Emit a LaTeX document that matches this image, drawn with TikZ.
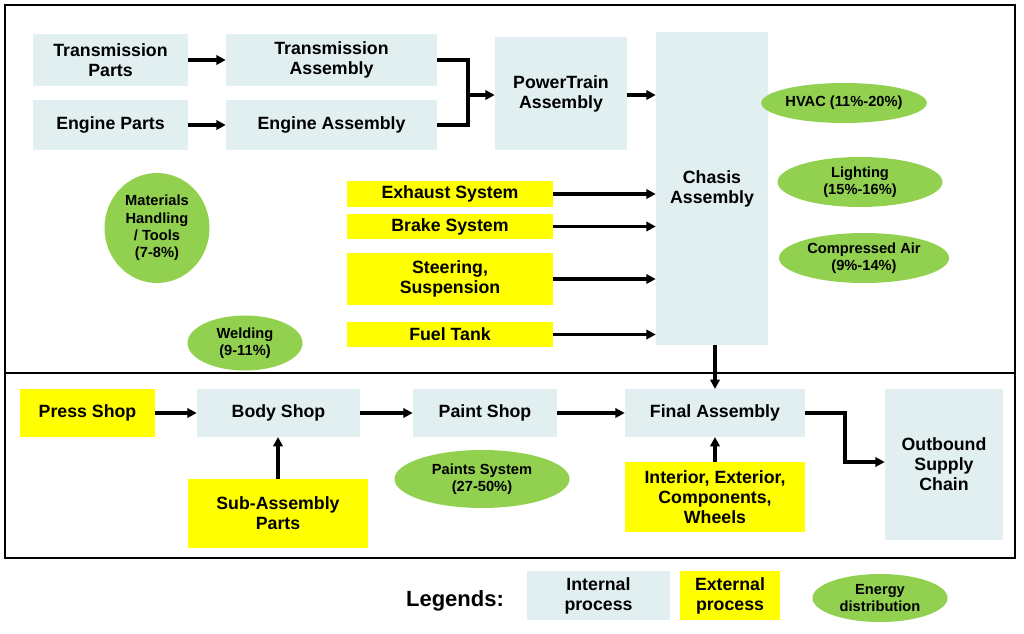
\documentclass[tikz,border=0pt]{standalone}
\usepackage{fontspec}
\setmainfont{Liberation Sans}
\usetikzlibrary{arrows.meta,shapes.geometric}
\definecolor{ib}{HTML}{E1EFF0}
\definecolor{ey}{HTML}{FFFF00}
\definecolor{eg}{HTML}{92D050}
\begin{document}
\begin{tikzpicture}[x=0.75pt,y=-0.75pt,
 box/.style={fill=ib,draw=none,align=center,font=\bfseries\fontsize{13.3}{15}\selectfont,inner sep=0pt},
 ybox/.style={fill=ey,draw=none,align=center,font=\bfseries\fontsize{13.3}{15}\selectfont,inner sep=0pt},
 ell/.style={ellipse,fill=eg,draw=none,align=center,font=\bfseries\fontsize{11}{13}\selectfont,inner sep=0pt},
 ar/.style={line width=2.4pt,-{Triangle[length=7pt,width=7pt]}},
 ln/.style={line width=2.4pt}]
\useasboundingbox (0,0) rectangle (1024,634);
\draw[line width=1pt] (5,5) rectangle (1015,558);
\draw[line width=1pt] (5,373) -- (1015,373);
\newcommand{\bx}[7]{\node[#1,minimum width=#4*0.75pt-#2*0.75pt,minimum height=#5*0.75pt-#3*0.75pt] (#6) at ({(#2+#4)/2},{(#3+#5)/2}) {#7};}
\bx{box}{33}{34}{188}{86}{tp}{Transmission\\Parts}
\bx{box}{226}{34}{437}{86}{ta}{Transmission\\Assembly}
\bx{box}{33}{100}{188}{150}{ep}{Engine Parts}
\bx{box}{226}{100}{437}{150}{ea}{Engine Assembly}
\bx{box}{495}{37}{627}{150}{pt}{PowerTrain\\Assembly}
\bx{box}{656}{32}{768}{345}{ch}{Chasis\\Assembly}
\bx{ybox}{347}{181}{553}{207}{ex}{Exhaust System}
\bx{ybox}{347}{214}{553}{239}{br}{Brake System}
\bx{ybox}{347}{253}{553}{305}{st}{Steering,\\Suspension}
\bx{ybox}{347}{322}{553}{347}{ft}{Fuel Tank}
\bx{ybox}{20}{389}{155}{437}{ps}{Press Shop}
\bx{box}{197}{389}{360}{437}{bs}{Body Shop}
\bx{box}{413}{389}{557}{437}{pa}{Paint Shop}
\bx{box}{625}{389}{805}{437}{fa}{Final Assembly}
\bx{box}{885}{389}{1003}{540}{ob}{Outbound\\Supply\\Chain}
\bx{ybox}{188}{479}{368}{548}{sa}{Sub-Assembly\\Parts}
\bx{ybox}{625}{462}{805}{532}{ie}{Interior, Exterior,\\Components,\\Wheels}
\bx{box}{527}{571}{670}{620}{li}{Internal\\process}
\bx{ybox}{680}{571}{780}{620}{le}{External\\process}
\node[ell,minimum width=165*0.75pt,minimum height=40*0.75pt] (hv) at (844,103) {HVAC (11\%-20\%)};
\node[ell,minimum width=165*0.75pt,minimum height=50*0.75pt] (lg) at (860,182) {Lighting\\(15\%-16\%)};
\node[ell,minimum width=170*0.75pt,minimum height=50*0.75pt] (ca) at (864,258) {Compressed Air\\(9\%-14\%)};
\node[ell,minimum width=105*0.75pt,minimum height=110*0.75pt] (mh) at (157,228) {Materials\\Handling\\/ Tools\\(7-8\%)};
\node[ell,minimum width=115*0.75pt,minimum height=55*0.75pt] (wd) at (245,343) {Welding\\(9-11\%)};
\node[ell,minimum width=175*0.75pt,minimum height=58*0.75pt] (ps2) at (482,479) {Paints System\\(27-50\%)};
\node[ell,minimum width=135*0.75pt,minimum height=48*0.75pt] (le2) at (880,598) {Energy\\distribution};
\node[font=\bfseries\fontsize{16.5}{18}\selectfont] (lg2) at (455,601) {Legends:};
\draw[ar] (tp) -- (ta);
\draw[ar] (ep) -- (ea);
\coordinate (j1) at (468,60); \coordinate (j2) at (468,125); \coordinate (j3) at (468,95);
\draw[ln] (ta.east) -- (j1) -- (j2) -- (ea.east);
\draw[ar] (j3) -- (pt.west|-j3);
\draw[ar] (pt.east|-j3) -- (ch.west|-j3);
\draw[ar] (ex.east) -- (ch.west|-ex.east);
\draw[ar] (br.east) -- (ch.west|-br.east);
\draw[ar] (st.east) -- (ch.west|-st.east);
\draw[ar] (ft.east) -- (ch.west|-ft.east);
\draw[ar] (715,345) -- (715,389);
\draw[ar] (ps) -- (bs);
\draw[ar] (bs) -- (pa);
\draw[ar] (pa) -- (fa);
\draw[ar] (278,479) -- (278,437);
\draw[ar] (715,462) -- (715,437);
\coordinate (k1) at (845,413); \coordinate (k2) at (845,462);
\draw[ar] (fa.east) -- (k1) -- (k2) -- (ob.west|-k2);
\end{tikzpicture}
\end{document}
